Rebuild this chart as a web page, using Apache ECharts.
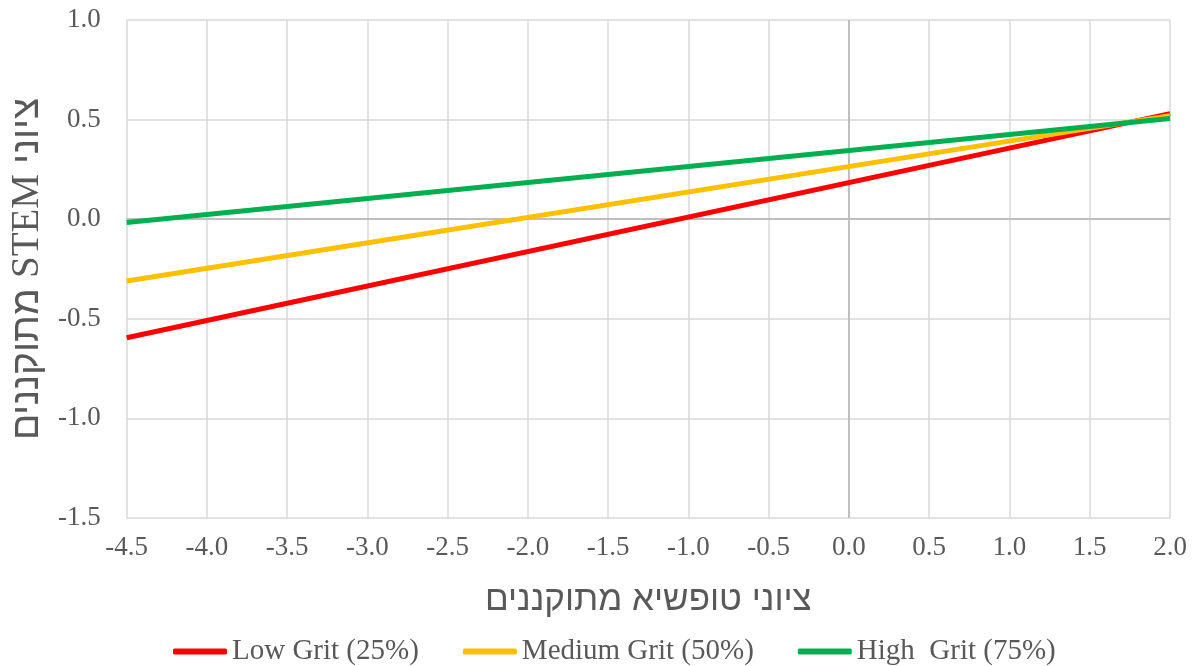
<!DOCTYPE html>
<html>
<head>
<meta charset="utf-8">
<script src="https://cdn.jsdelivr.net/npm/echarts@6/dist/echarts.min.js"></script>
<style>
@font-face {
  font-family: "HebSans";
  src: local("Liberation Sans"), local("Arial");
  unicode-range: U+0590-05FF, U+FB1D-FB4F;
}
html,body{margin:0;padding:0;background:#fff;}
#chart{width:1196px;height:666px;}
</style>
</head>
<body>
<div id="chart"></div>
<script>
// Data
const xValues = [-4.5, 2.0];
const lowGrit = [-0.595, 0.53];
const mediumGrit = [-0.31, 0.52];
const highGrit = [-0.017, 0.505];
const seriesNames = ['Low Grit (25%)', 'Medium Grit (50%)', 'High  Grit (75%)'];
const xTitle = 'ציוני טופשיא מתוקננים';
const yTitle = '\u202Bציוני STEM מתוקננים\u202C';

const toPairs = (ys) => xValues.map((x, i) => [x, ys[i]]);
const colors = ['#FF0000', '#FFC000', '#00B050'];
const font = '"Liberation Serif", "Times New Roman", serif';
const mixFont = '"HebSans", "Liberation Serif", "Times New Roman", serif';
const sansFont = '"Liberation Sans", Arial, sans-serif';
const textColor = '#595959';

function render() {
  const chart = echarts.init(document.getElementById('chart'));
  const mkSeries = (name, ys, color) => ({
    name: name,
    type: 'line',
    data: toPairs(ys),
    showSymbol: false,
    symbol: 'none',
    lineStyle: { color: color, width: 5 },
    itemStyle: { color: color },
    z: 5
  });

  chart.setOption({
    animation: false,
    textStyle: { fontFamily: font },
    grid: { left: 125, right: 26, top: 20, bottom: 148 },
    xAxis: {
      type: 'value',
      min: -4.5, max: 2.0, interval: 0.5,
      axisLine: { show: false },
      axisTick: { show: false },
      axisLabel: {
        margin: 16, color: textColor, fontSize: 27, fontFamily: font,
        formatter: (v) => v.toFixed(1)
      },
      splitLine: { show: true, lineStyle: { color: '#d9d9d9', width: 1.5 } },
      name: xTitle,
      nameLocation: 'middle',
      nameGap: 65,
      nameTextStyle: { color: textColor, fontSize: 35, fontFamily: sansFont }
    },
    yAxis: {
      type: 'value',
      min: -1.5, max: 1.0, interval: 0.5,
      axisLine: { show: false },
      axisTick: { show: false },
      axisLabel: {
        margin: 26, color: textColor, fontSize: 27, fontFamily: font,
        formatter: (v) => v.toFixed(1)
      },
      splitLine: { show: true, lineStyle: { color: '#d9d9d9', width: 1.5 } },
      name: yTitle,
      nameLocation: 'middle',
      nameRotate: 90,
      nameGap: 70,
      nameTextStyle: { color: textColor, fontSize: 39, fontFamily: mixFont }
    },
    legend: {
      data: seriesNames,
      left: 168,
      top: 632,
      itemWidth: 54,
      itemHeight: 6,
      itemGap: 44,
      icon: 'roundRect',
      textStyle: { color: textColor, fontSize: 29, fontFamily: font }
    },
    series: [
      {
        type: 'line',
        data: [],
        silent: true,
        markLine: {
          silent: true,
          symbol: 'none',
          label: { show: false },
          lineStyle: { color: '#bfbfbf', width: 2, type: 'solid' },
          data: [{ xAxis: 0 }, { yAxis: 0 }],
          animation: false
        },
        z: 1
      },
      mkSeries(seriesNames[0], lowGrit, colors[0]),
      mkSeries(seriesNames[1], mediumGrit, colors[1]),
      mkSeries(seriesNames[2], highGrit, colors[2])
    ]
  });
}

let done = false;
function go() { if (!done) { done = true; render(); } }
if (document.fonts && document.fonts.load) {
  Promise.all([
    document.fonts.load('39px HebSans', 'ציוני'),
    document.fonts.load('35px "Liberation Sans"', 'ציוני'),
    document.fonts.load('27px "Liberation Serif"', '0.5 STEM')
  ]).then(go, go);
  setTimeout(go, 300);
} else {
  go();
}
</script>
</body>
</html>
